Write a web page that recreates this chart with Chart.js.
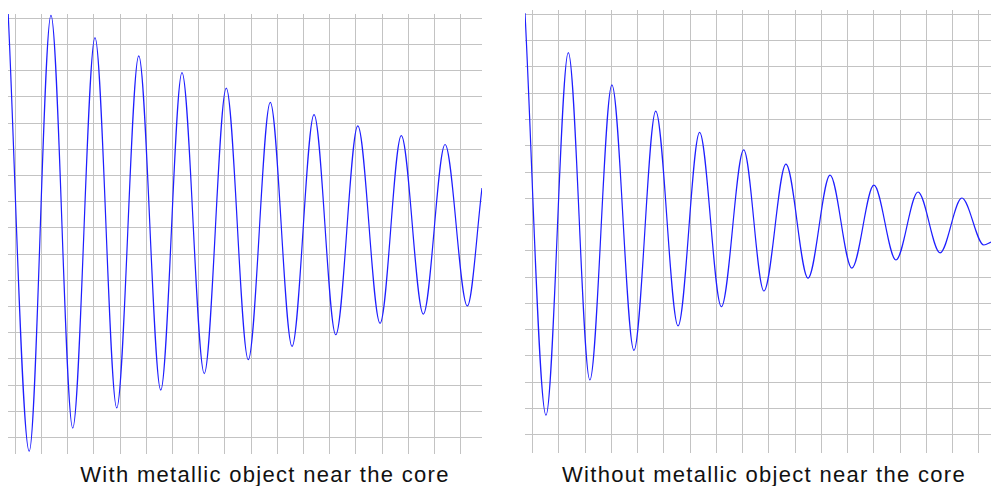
<!DOCTYPE html>
<html>
<head>
<meta charset="utf-8">
<script src="https://cdn.jsdelivr.net/npm/chart.js@4/dist/chart.umd.min.js"></script>
<style>
body { margin:0; background:#fff; width:991px; height:486px; overflow:hidden; position:relative; }
.box { position:absolute; }
.titulo { position:absolute; top:464px; width:480px; text-align:center; font-family:"Liberation Sans", Arial, sans-serif; font-size:22px; line-height:22px; letter-spacing:1.3px; color:#111; white-space:nowrap; }
</style>
</head>
<body>
<div class="box" style="left:8px;top:14px;width:474px;height:440px"><canvas id="GraficoCom"></canvas></div>
<div class="box" style="left:525px;top:10px;width:466px;height:443px"><canvas id="GraficoSem"></canvas></div>
<div class="titulo" id="tituloCom" style="left:25px"></div>
<div class="titulo" id="tituloSem" style="left:524px"></div>
<script>
// values in grid divisions (x: time, y: signal)
let tituloCom = "With metallic object near the core";
let tituloSem = "Without metallic object near the core";

let comX = [-0.28, 0.53, 1.36, 2.19, 3.04, 3.87, 4.71, 5.55, 6.36, 7.21, 8.05, 8.89, 9.73, 10.56, 11.40, 12.23, 13.07, 13.92, 14.73, 15.57, 16.40, 17.25, 17.81];
let comY = [8.32, -8.52, 8.11, -7.64, 7.26, -6.87, 6.56, -6.19, 5.92, -5.56, 5.33, -5.03, 4.79, -4.52, 4.32, -4.08, 3.89, -3.64, 3.52, -3.29, 3.18, -2.98, 1.52];

let semX = [-0.29, 0.51, 1.36, 2.18, 3.02, 3.86, 4.69, 5.54, 6.36, 7.19, 8.04, 8.81, 9.65, 10.49, 11.33, 12.16, 13.00, 13.84, 14.68, 15.52, 16.35, 17.19, 17.46];
let semY = [8.05, -7.26, 6.55, -5.92, 5.32, -4.79, 4.32, -3.86, 3.51, -3.13, 2.84, -2.53, 2.30, -2.04, 1.88, -1.66, 1.50, -1.35, 1.24, -1.08, 1.01, -0.78, -0.67];

let gradeX = [0,1,2,3,4,5,6,7,8,9,10,11,12,13,14,15,16,17];
let gradeY = [-8,-7,-6,-5,-4,-3,-2,-1,0,1,2,3,4,5,6,7,8];

document.getElementById("tituloCom").textContent = tituloCom;
document.getElementById("tituloSem").textContent = tituloSem;

function fazGrafico(id, xs, ys, xmin, xmax, ymin, ymax) {
    let pontos = xs.map(function(x, i) { return {x: x, y: ys[i]}; });
    let grade = {color:"rgb(195,195,195)", lineWidth:1, drawTicks:false};
    return new Chart(document.getElementById(id), {
        type:"line",
        data:{datasets:[{
            data:pontos,
            borderColor:"rgb(30,30,255)",
            borderWidth:1.2,
            pointRadius:0,
            fill:false,
            cubicInterpolationMode:"monotone",
            clip:false
        }]},
        options:{
            animation:false,
            responsive:true,
            maintainAspectRatio:false,
            layout:{padding:0},
            plugins:{legend:{display:false}, tooltip:{enabled:false}},
            scales:{
                x:{type:"linear", min:xmin, max:xmax, grid:grade, border:{display:false}, ticks:{display:false},
                   afterBuildTicks: function(s) { s.ticks = gradeX.map(function(v) { return {value:v}; }); }},
                y:{type:"linear", min:ymin, max:ymax, grid:grade, border:{display:false}, ticks:{display:false},
                   afterBuildTicks: function(s) { s.ticks = gradeY.map(function(v) { return {value:v}; }); }}
            }
        }
    });
}

fazGrafico("GraficoCom", comX, comY, -0.28, 17.81, -8.63, 8.16);
fazGrafico("GraficoSem", semX, semY, -0.29, 17.46, -8.70, 8.17);
</script>
</body>
</html>
